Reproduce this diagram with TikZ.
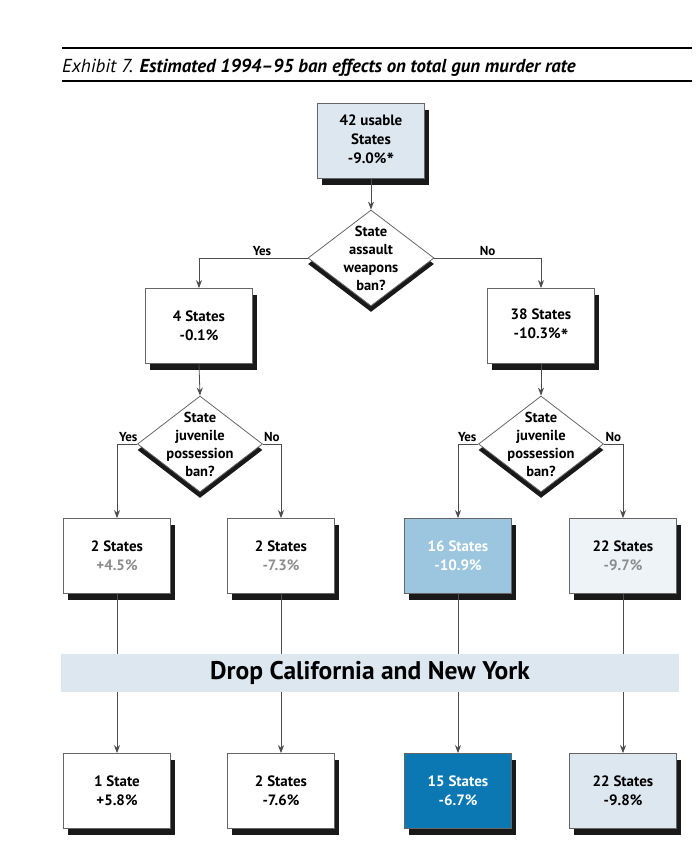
\documentclass[tikz,border=0pt]{standalone}
\usepackage{fontspec}
\setmainfont{PT Sans}
\usetikzlibrary{shapes.geometric,shadows,arrows.meta}

\definecolor{paleblue}{HTML}{DCE7F0}
\definecolor{paleblue2}{HTML}{EEF3F8}
\definecolor{midblue}{HTML}{9CC6DF}
\definecolor{deepblue}{HTML}{0B78B4}
\definecolor{frame}{HTML}{666666}
\definecolor{fade}{HTML}{8C8C8C}

\newcommand{\signif}{\raisebox{-4.5pt}{\fontsize{20}{20}\selectfont *}}

\tikzset{
  box/.style={draw=frame, line width=0.8pt, fill=white, minimum width=107pt,
    minimum height=75pt, align=center, font=\bfseries\fontsize{15}{19}\selectfont,
    drop shadow={shadow xshift=4pt, shadow yshift=-6pt, fill=black!90, opacity=1}},
  dia/.style={shape=diamond, draw=frame, line width=0.8pt, fill=white, aspect=1.3,
    inner sep=-14pt, minimum width=126pt, minimum height=96pt, align=center,
    font=\bfseries\fontsize{14.5}{18}\selectfont,
    drop shadow={shadow xshift=0pt, shadow yshift=-6pt, fill=black!90, opacity=1}},
  conn/.style={draw=black!70, line width=0.8pt, -{Stealth[length=8pt,width=6pt]}},
  lbl/.style={font=\bfseries\fontsize{13}{15}\selectfont, inner sep=1.5pt}
}

\begin{document}
\begin{tikzpicture}[x=1pt,y=-1pt]
\useasboundingbox (0,0) rectangle (700,851);
% heading
\draw[line width=2.5pt] (62,48) -- (692,48);
\draw[line width=1.5pt] (62,81) -- (692,81);
\node[anchor=base west, inner sep=0pt, font=\fontsize{18.8}{21}\selectfont] (title) at (62,72)
  {\itshape Exhibit 7. \bfseries Estimated 1994--95 ban effects on total gun murder rate};

% tree
\node[box, fill=paleblue] (all) at (371,141) {42 usable\\States\\-9.0\%\signif};
\node[dia] (d1) at (371,258) {State\\assault\\weapons\\ban?};
\node[box] (s4) at (199,326) {4 States\\-0.1\%};
\node[box] (s38) at (541,326) {38 States\\-10.3\%\signif};
\node[dia, minimum width=125pt] (d2) at (200,444) {State\\juvenile\\possession\\ban?};
\node[dia, minimum width=125pt] (d3) at (541,444) {State\\juvenile\\possession\\ban?};

\node[box] (r1) at (117,556) {2 States\\\textcolor{fade}{+4.5\%}};
\node[box] (r2) at (281,556) {2 States\\\textcolor{fade}{-7.3\%}};
\node[box, fill=midblue, text=white] (r3) at (458,556) {16 States\\-10.9\%};
\node[box, fill=paleblue2] (r4) at (623,556) {22 States\\\textcolor{fade}{-9.7\%}};

\node[box] (b1) at (117,791) {1 State\\+5.8\%};
\node[box] (b2) at (281,791) {2 States\\-7.6\%};
\node[box, fill=deepblue, text=white] (b3) at (458,791) {15 States\\-6.7\%};
\node[box, fill=paleblue] (b4) at (623,791) {22 States\\-9.8\%};

% connectors
\draw[conn] (all.south) -- (d1.north);
\draw[conn] (d1.west) -| (s4.north) node[lbl, pos=0.21, above] (y1) {Yes};
\draw[conn] (d1.east) -| (s38.north) node[lbl, pos=0.25, above] (n1) {No};
\draw[conn] (s4.south) -- (d2.north);
\draw[conn] (s38.south) -- (d3.north);
\draw[conn] (d2.west) -| (r1.north) node[lbl, pos=0.22, above] (y2) {Yes};
\draw[conn] (d2.east) -| (r2.north) node[lbl, pos=0.25, above] (n2) {No};
\draw[conn] (d3.west) -| (r3.north) node[lbl, pos=0.27, above] (y3) {Yes};
\draw[conn] (d3.east) -| (r4.north) node[lbl, pos=0.25, above] (n3) {No};
\foreach \i in {1,...,4}
  \draw[conn] (r\i.south) -- (b\i.north);

\node[fill=paleblue, minimum width=618pt, minimum height=38pt,
  font=\bfseries\fontsize{25.5}{27}\selectfont] (band) at (370,673) {Drop California and New York};
\end{tikzpicture}
\end{document}
